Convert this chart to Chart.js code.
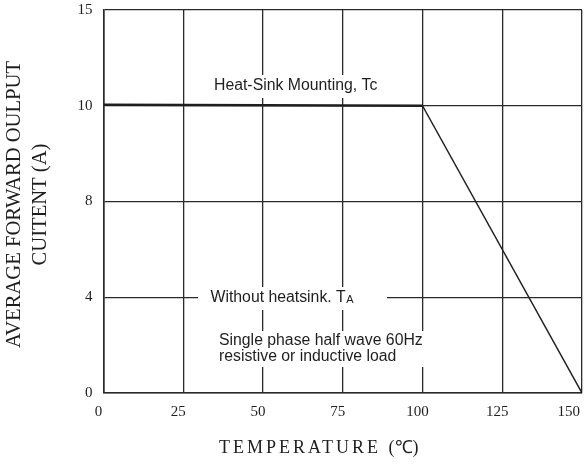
<!DOCTYPE html>
<html>
<head>
<meta charset="utf-8">
<script src="https://cdn.jsdelivr.net/npm/chart.js@4/dist/chart.umd.min.js"></script>
<style>
  html, body { margin: 0; padding: 0; background: #ffffff; }
  #wrap { width: 584px; height: 466px; }
</style>
</head>
<body>
<div id="wrap"><canvas id="c" width="584" height="466"></canvas></div>
<script>
// ---- data ----
const TEMPERATURE = [0, 100, 150];          // °C
const CURRENT = [10.05, 10, 0];              // A (Heat-Sink Mounting, Tc)
const X_TICKS = [0, 25, 50, 75, 100, 125, 150];
const Y_TICK_VALUES = [0, 4, 8, 10, 15];     // non-uniform axis: each tick equally spaced
const Y_TICK_LABELS = ['0', '4', '8', '10', '15'];
const X_TITLE = 'TEMPERATURE (\u2103)';
const Y_TITLE = ['AVERAGE FORWARD OULPUT', 'CUITENT (A)'];
const NOTES = {
  heat: 'Heat-Sink Mounting, Tc',
  without: 'Without heatsink. T',
  withoutSub: 'A',
  single1: 'Single phase half wave 60Hz',
  single2: 'resistive or inductive load'
};

// map a real current value onto the evenly spaced tick index axis
function toAxis(v) {
  const t = Y_TICK_VALUES;
  if (v <= t[0]) return 0;
  for (let i = 1; i < t.length; i++) {
    if (v <= t[i]) return (i - 1) + (v - t[i - 1]) / (t[i] - t[i - 1]);
  }
  return t.length - 1;
}

const points = TEMPERATURE.map((x, i) => ({ x: x, y: toAxis(CURRENT[i]) }));

const INK = '#1e1e1e';
const SANS = '"Liberation Sans", Arial, sans-serif';
const SERIF = '"Liberation Serif", "Times New Roman", serif';

const decor = {
  id: 'decor',
  beforeDatasetsDraw(chart) {
    const ctx = chart.ctx;
    ctx.save();
    // white label backgrounds that interrupt the grid
    ctx.fillStyle = '#ffffff';
    ctx.fillRect(205, 75, 183, 23);
    ctx.fillRect(198, 287, 189, 23);
    ctx.fillRect(214, 331, 216, 36);
    // notes
    ctx.fillStyle = INK;
    ctx.textBaseline = 'middle';
    ctx.textAlign = 'left';
    ctx.font = '15.8px ' + SANS;
    ctx.fillText(NOTES.heat, 214, 86);
    ctx.fillText(NOTES.without, 210.5, 297.5);
    const w = ctx.measureText(NOTES.without).width;
    ctx.font = '11px ' + SANS;
    ctx.textBaseline = 'alphabetic';
    ctx.fillText(NOTES.withoutSub, 210.5 + w + 0.5, 303);
    ctx.textBaseline = 'middle';
    ctx.font = '15.8px ' + SANS;
    ctx.fillText(NOTES.single1, 219, 340.5);
    ctx.fillText(NOTES.single2, 219, 357);
    ctx.restore();
  },
  afterDraw(chart) {
    const ctx = chart.ctx;
    const xs = chart.scales.x;
    ctx.save();
    // x tick labels
    ctx.fillStyle = INK;
    ctx.font = '15px ' + SERIF;
    ctx.textAlign = 'center';
    ctx.textBaseline = 'middle';
    X_TICKS.forEach(v => {
      const tw = ctx.measureText(String(v)).width;
      let px = xs.getPixelForValue(v) - 5;
      if (px + tw / 2 > 580) px = 580 - tw / 2;
      ctx.fillText(String(v), px, 412.5);
    });
    // x title
    ctx.font = '18px ' + SERIF;
    ctx.letterSpacing = '3px';
    ctx.textAlign = 'left';
    const main = 'TEMPERATURE ';
    ctx.fillText(main, 219, 448);
    const mw = ctx.measureText(main).width;
    ctx.letterSpacing = '0px';
    ctx.fillText(X_TITLE.slice(main.length), 219 + mw, 448);
    // y title (rotated, condensed to fit)
    ctx.font = '21px ' + SERIF;
    const w1 = ctx.measureText(Y_TITLE[0]).width;
    const sx = 287 / w1;
    [[Y_TITLE[0], 14.5], [Y_TITLE[1], 40]].forEach(([txt, cx]) => {
      ctx.save();
      ctx.translate(cx, 204.5);
      ctx.rotate(-Math.PI / 2);
      ctx.scale(sx, 1);
      ctx.textAlign = 'center';
      ctx.textBaseline = 'middle';
      ctx.fillText(txt, 0, 0);
      ctx.restore();
    });
    ctx.restore();
  }
};

new Chart(document.getElementById('c'), {
  type: 'scatter',
  data: {
    datasets: [{
      data: points,
      showLine: true,
      borderColor: INK,
      borderWidth: 1.6,
      pointRadius: 0,
      pointHoverRadius: 0,
      segment: {
        borderWidth: c => (c.p0DataIndex === 0 ? 2.4 : 1.5)
      }
    }]
  },
  options: {
    responsive: false,
    animation: false,
    devicePixelRatio: 1,
    layout: { padding: { top: 10, right: 2, left: 0, bottom: 0 } },
    plugins: { legend: { display: false }, tooltip: { enabled: false } },
    scales: {
      x: {
        type: 'linear',
        min: 0,
        max: 150,
        afterBuildTicks: s => { s.ticks = X_TICKS.map(v => ({ value: v })); },
        ticks: { display: false },
        grid: { color: '#2a2a2a', lineWidth: 1.3, drawTicks: false },
        border: { color: '#2a2a2a', width: 1.6 },
        afterFit: s => { s.height = 73; s.paddingLeft = 0; s.paddingRight = 0; }
      },
      y: {
        type: 'linear',
        min: 0,
        max: Y_TICK_VALUES.length - 1,
        afterBuildTicks: s => { s.ticks = Y_TICK_VALUES.map((_, i) => ({ value: i })); },
        ticks: {
          padding: 11,
          color: INK,
          font: { family: SERIF, size: 15 },
          callback: v => Y_TICK_LABELS[v]
        },
        grid: { color: '#2a2a2a', lineWidth: 1.3, drawTicks: false },
        border: { color: '#2a2a2a', width: 1.6 },
        afterFit: s => { s.width = 103.5; s.paddingTop = 0; s.paddingBottom = 0; }
      }
    }
  },
  plugins: [decor]
});
</script>
</body>
</html>
